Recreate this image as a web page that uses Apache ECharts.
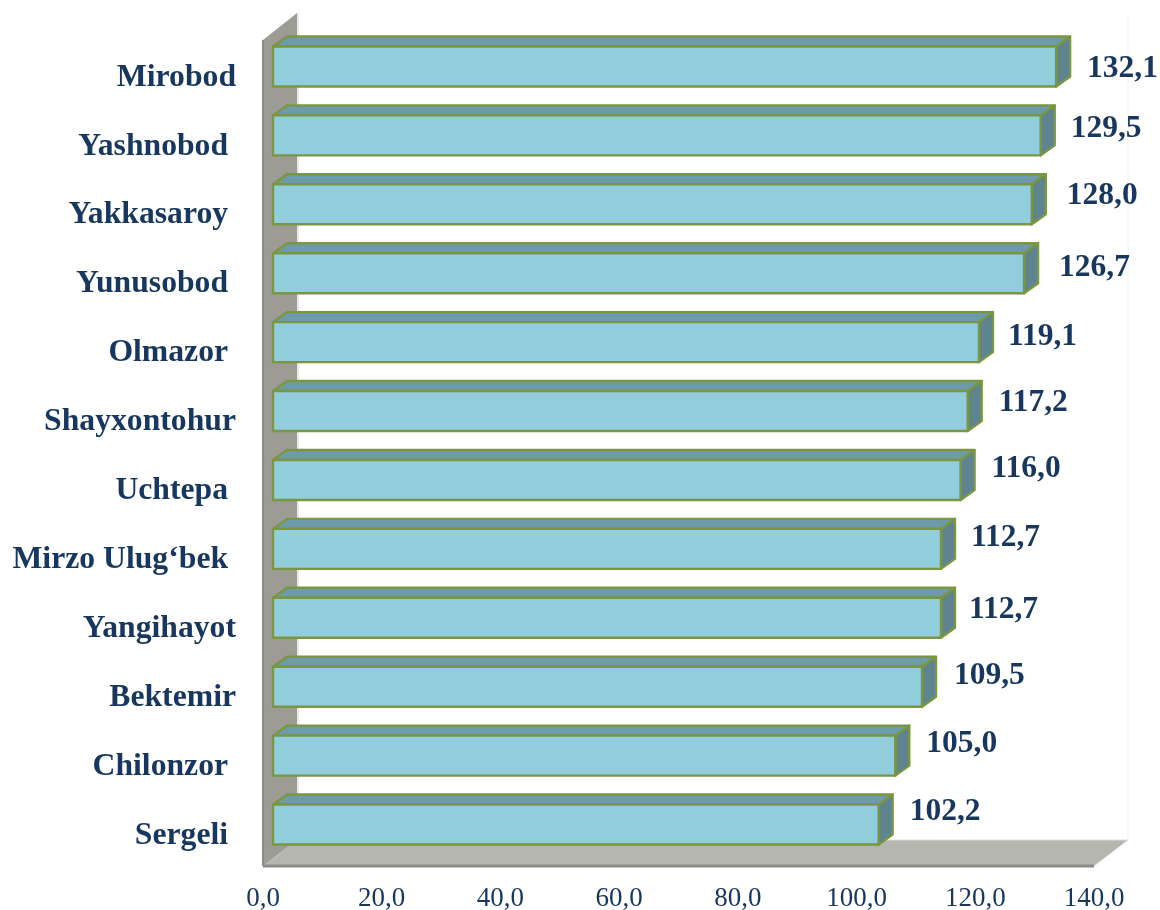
<!DOCTYPE html>
<html><head><meta charset="utf-8">
<style>html,body{margin:0;padding:0;background:#fff}#c{width:1160px;height:910px}</style>
<script src="https://cdn.jsdelivr.net/npm/echarts@6/dist/echarts.min.js"></script>
</head><body><div id="c"></div>
<script>
// Data (trailing spaces are part of the source labels)
const categories = ['Mirobod','Yashnobod ','Yakkasaroy ','Yunusobod ','Olmazor ','Shayxontohur','Uchtepa ','Mirzo Ulug‘bek ','Yangihayot','Bektemir','Chilonzor ','Sergeli '];
const values = [132.1,129.5,128.0,126.7,119.1,117.2,116.0,112.7,112.7,109.5,105.0,102.2];
const tickValues = [0,20,40,60,80,100,120,140];

// Hand-placed data-label nudges from the reference (px from bar front end / bar centre)
const labelDx = [31,30,35,35,29,31,31,30,28,32,31,31];
const labelDy = [2,-7,-8,-5,-5,-8,-11,-11,-8,-11,-12,-13];

const comma = v => v.toFixed(1).replace('.', ',');
const INK = '#17375E', FONT = '"Liberation Serif", serif';
const GAP = 10, END_GAP = 9, DX = 14, DY = 10, BAR_H = 40;

function renderFrame(params, api) {
  const g = params.coordSys, L = g.x, R = g.x + g.width, F = g.y + g.height + 7;
  const wx = 34, wy = 26, T = g.y + 8;
  return { type: 'group', silent: true, children: [
    {type:'line', shape:{x1:R+wx,y1:T-27,x2:R+wx,y2:F-wy}, style:{stroke:'#f0f0f0',lineWidth:1}},
    {type:'line', shape:{x1:L+wx+1,y1:T-27,x2:L+wx+1,y2:F-wy}, style:{stroke:'#e2e2df',lineWidth:1.5}},
    {type:'polygon', shape:{points:[[L,F],[L+wx,F-wy],[R+wx,F-wy],[R,F]]}, style:{fill:'#B5B7AF',stroke:'#dcdcd8',lineWidth:1}},
    {type:'polygon', shape:{points:[[L,T],[L+wx,T-27],[L+wx,F-wy],[L,F]]}, style:{fill:'#9C9C94'}},
    {type:'line', shape:{x1:L,y1:T,x2:L,y2:F}, style:{stroke:'#8c8c86',lineWidth:2}},
    {type:'line', shape:{x1:L,y1:F,x2:R,y2:F}, style:{stroke:'#8c8c86',lineWidth:3}}
  ]};
}

function renderBar(params, api) {
  const i = api.value(1), v = api.value(0);
  const end = api.coord([v, i]), zero = api.coord([0, i]);
  const x0 = zero[0] + GAP, x1 = end[0] + END_GAP, y0 = end[1] - BAR_H / 2, y1 = y0 + BAR_H;
  const stroke = {stroke:'#7A9640', lineWidth:2.4, lineJoin:'round'};
  return { type:'group', children:[
    {type:'polygon', shape:{points:[[x0,y0],[x0+DX,y0-DY],[x1+DX,y0-DY],[x1,y0]]}, style:{fill:'#6E9BAA',...stroke}},
    {type:'polygon', shape:{points:[[x1,y0],[x1+DX,y0-DY],[x1+DX,y1-DY],[x1,y1]]}, style:{fill:'#5F8490',...stroke}},
    {type:'rect', shape:{x:x0,y:y0,width:x1-x0,height:BAR_H}, style:{fill:'#92CDDC',...stroke}},
    {type:'text', style:{text:comma(v), x:x1+labelDx[params.dataIndex], y:end[1]+labelDy[params.dataIndex],
      textAlign:'left', textVerticalAlign:'middle', font:'bold 31.5px '+FONT, fill:INK}}
  ]};
}

const chart = echarts.init(document.getElementById('c'), null, {renderer:'canvas'});
chart.setOption({
  animation:false,
  backgroundColor:'#ffffff',
  grid:{left:263, width:831, top:32, height:827, containLabel:false, outerBoundsMode:'none'},
  xAxis:{type:'value', min:tickValues[0], max:tickValues[tickValues.length-1], interval:20,
    axisLine:{show:false}, axisTick:{show:false}, splitLine:{show:false},
    axisLabel:{color:INK, fontFamily:FONT, fontSize:27, margin:26, formatter:comma, hideOverlap:false, showMinLabel:true, showMaxLabel:true}},
  yAxis:{type:'category', inverse:true, data:categories,
    axisLine:{show:false}, axisTick:{show:false},
    axisLabel:{color:INK, fontFamily:FONT, fontSize:31.7, fontWeight:'bold', margin:27, interval:0, verticalAlign:'top', lineHeight:22}},
  series:[
    {type:'custom', coordinateSystem:'cartesian2d', renderItem:renderFrame, data:[[0,0]], encode:{x:0,y:1}, clip:false, silent:true, z:1},
    {type:'custom', coordinateSystem:'cartesian2d', renderItem:renderBar, data:values.map((v,i)=>[v,i]), encode:{x:0,y:1}, clip:false, z:2}
  ]
});
</script></body></html>
